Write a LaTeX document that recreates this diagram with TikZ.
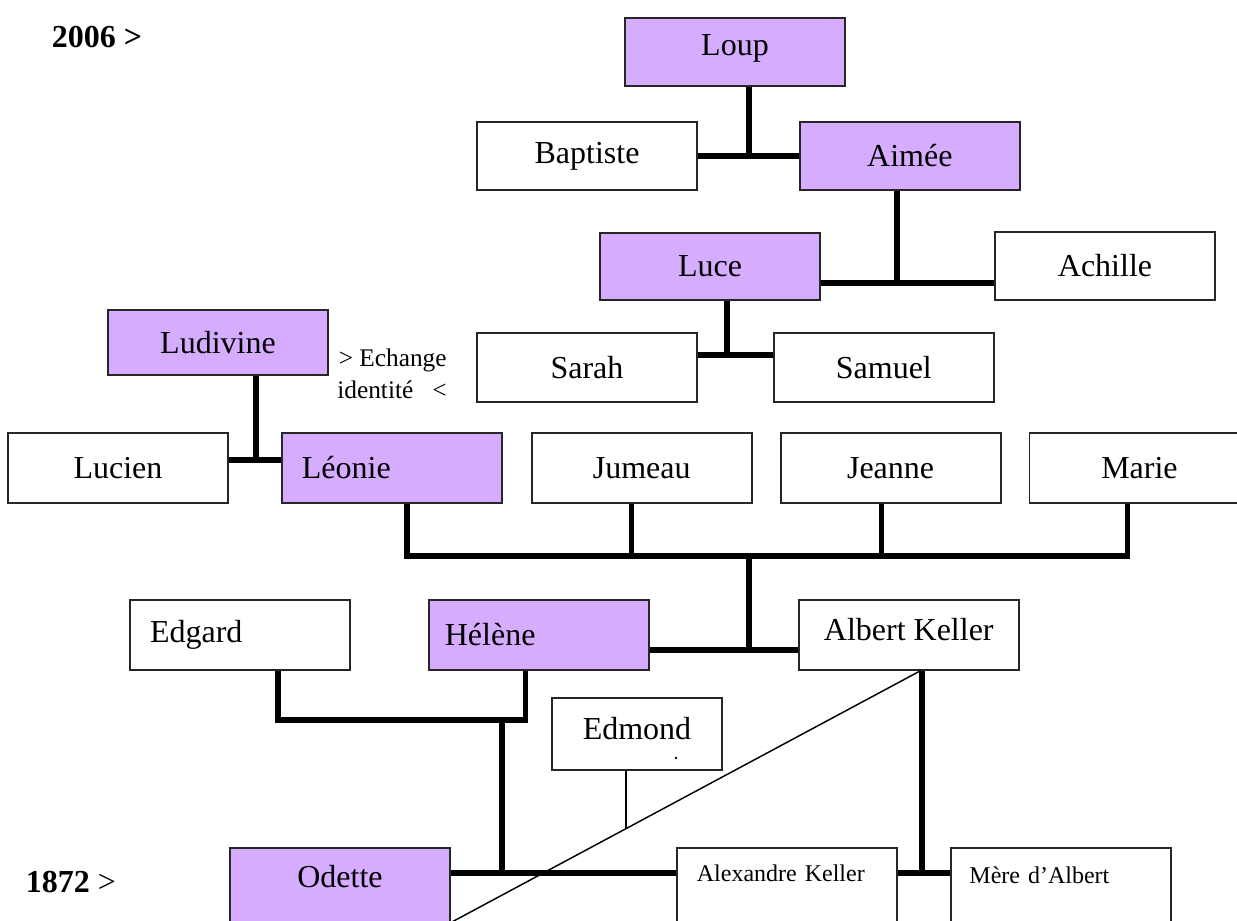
\documentclass[tikz,border=0pt]{standalone}
\usepackage{fontspec}
\setmainfont{Liberation Serif}
\usetikzlibrary{positioning}
\definecolor{lilac}{RGB}{214,172,255}
\tikzstyle{person} = [rectangle, draw=black!85, line width=1.4pt, fill=white, text=black, minimum width=165pt, minimum height=52pt, inner sep=0pt, font=\fontsize{24}{28}\selectfont]
\tikzstyle{heir} = [person, fill=lilac]
\tikzstyle{lefttext} = [text width=135pt, inner xsep=15pt, align=left]
\tikzstyle{smalltext} = [font=\fontsize{18}{22}\selectfont]
\tikzstyle{lastrow} = [minimum height=60pt, text depth=18pt]
\tikzstyle{year} = [font=\fontsize{24}{28}\selectfont]
\tikzstyle{famline} = [draw, line width=4pt]
\tikzstyle{thinline} = [draw, line width=1.1pt]

\begin{document}
\begin{tikzpicture}[x=0.75pt, y=-0.75pt]
\useasboundingbox (0,0) rectangle (1237,920);

% years =============================
\node[year] (y2006) at (97,37) {\textbf{2006 >}};
\node[year] (y1872) at (71,882) {\textbf{1872} >};

% persons, top to bottom
\node[heir, minimum height=51pt, text depth=11pt] (loup) at (735,52) {Loup};
\node[person, minimum height=51pt] (baptiste) at (587,156) {Baptiste};
\node[heir, minimum height=51pt, right=75.75pt of baptiste] (aimee) {Aimée};

\node[heir, minimum height=50pt] (luce) at (710,266.5) {Luce};
\node[person, minimum height=51pt] (achille) at (1105,266) {Achille};

\node[heir, minimum height=49pt] (ludivine) at (218,342.5) {Ludivine};
\node[font=\fontsize{19}{24}\selectfont, align=right] (swap) at (392,374) {> Echange\\identité\ \ \ <};
\node[person] (sarah) at (587,367.5) {Sarah};
\node[person, right=56.25pt of sarah] (samuel) {Samuel};

\node[person] (lucien) at (118,468) {Lucien};
\node[heir, lefttext, right=39pt of lucien] (leonie) {Léonie};
\node[person, right=21pt of leonie] (jumeau) {Jumeau};
\node[person, right=20.25pt of jumeau] (jeanne) {Jeanne};
\node[person, right=20.25pt of jeanne] (marie) {Marie};

\node[person, lefttext] (edgard) at (240,635) {Edgard};
\node[heir, lefttext, inner xsep=12pt, text width=141pt, right=57.75pt of edgard] (helene) {Hélène};
\node[person, right=111pt of helene, text depth=8pt] (albert) {Albert Keller};

\node[person, minimum width=127.5pt, minimum height=54pt, text depth=8pt] (edmond) at (637,734) {Edmond};
\coordinate (edmonddot) at (676,758);
\fill (edmonddot) circle (1.1pt);

\node[heir, lastrow] (odette) at (340,888) {Odette};
\node[person, lastrow, lefttext, smalltext, text depth=22pt, right=168.75pt of odette] (alexandre) {Alexandre Keller};
\node[person, lastrow, lefttext, smalltext, text depth=20pt, inner xsep=14pt, text width=137pt, right=39pt of alexandre] (mere) {Mère d’Albert};

% knots
\coordinate (aimeeknot) at (749,156);
\coordinate (luceknot) at (897,283);
\coordinate (sarahknot) at (727,355);
\coordinate (leonieknot) at (256,460);
\coordinate (bus) at (749,556);
\coordinate (heleneknot) at (749,650);
\coordinate (edgardknot) at (502,720);
\coordinate (odetteknot) at (502,873);
\coordinate (albertknot) at (922,873);

% edges
\path[famline] (baptiste.east) -- (aimee.west);
\path[famline] (loup.south -| aimeeknot) -- (aimeeknot);
\path[famline] (aimee.south -| luceknot) -- (luceknot);
\path[famline] (luce.east |- luceknot) -- (achille.west |- luceknot);
\path[famline] (luce.south -| sarahknot) -- (sarahknot);
\path[famline] (sarah.east |- sarahknot) -- (samuel.west |- sarahknot);
\path[famline] (ludivine.south -| leonieknot) -- (leonieknot);
\path[famline] (lucien.east |- leonieknot) -- (leonie.west |- leonieknot);

\path[famline] ([xshift=11.25pt]leonie.south) |- (bus) -| ([xshift=-9pt]marie.south);
\foreach \n/\dx in {jumeau/-7.5pt, jeanne/-6.75pt}
  \path[famline] ([xshift=\dx]\n.south) -- ([xshift=\dx]\n.south |- bus);
\path[famline] (bus) -- (heleneknot);
\path[famline] (helene.east |- heleneknot) -- (albert.west |- heleneknot);

\path[famline] ([xshift=28.5pt]edgard.south) |- (edgardknot) -| ([xshift=-10pt]helene.south);
\path[famline] (edgardknot) -- (odetteknot);
\path[famline] (odette.east |- odetteknot) -- (alexandre.west |- odetteknot);
\path[famline] (albert.south -| albertknot) -- (albertknot);
\path[famline] (alexandre.east |- albertknot) -- (mere.west |- albertknot);

\path[thinline] ([xshift=9pt]albert.south) -- coordinate[pos=0.61] (tick) ([xshift=-9pt]odette.south east);
\path[thinline] ([xshift=-8.25pt]edmond.south) -- ([xshift=-8.25pt]edmond.south |- tick);

\end{tikzpicture}
\end{document}
